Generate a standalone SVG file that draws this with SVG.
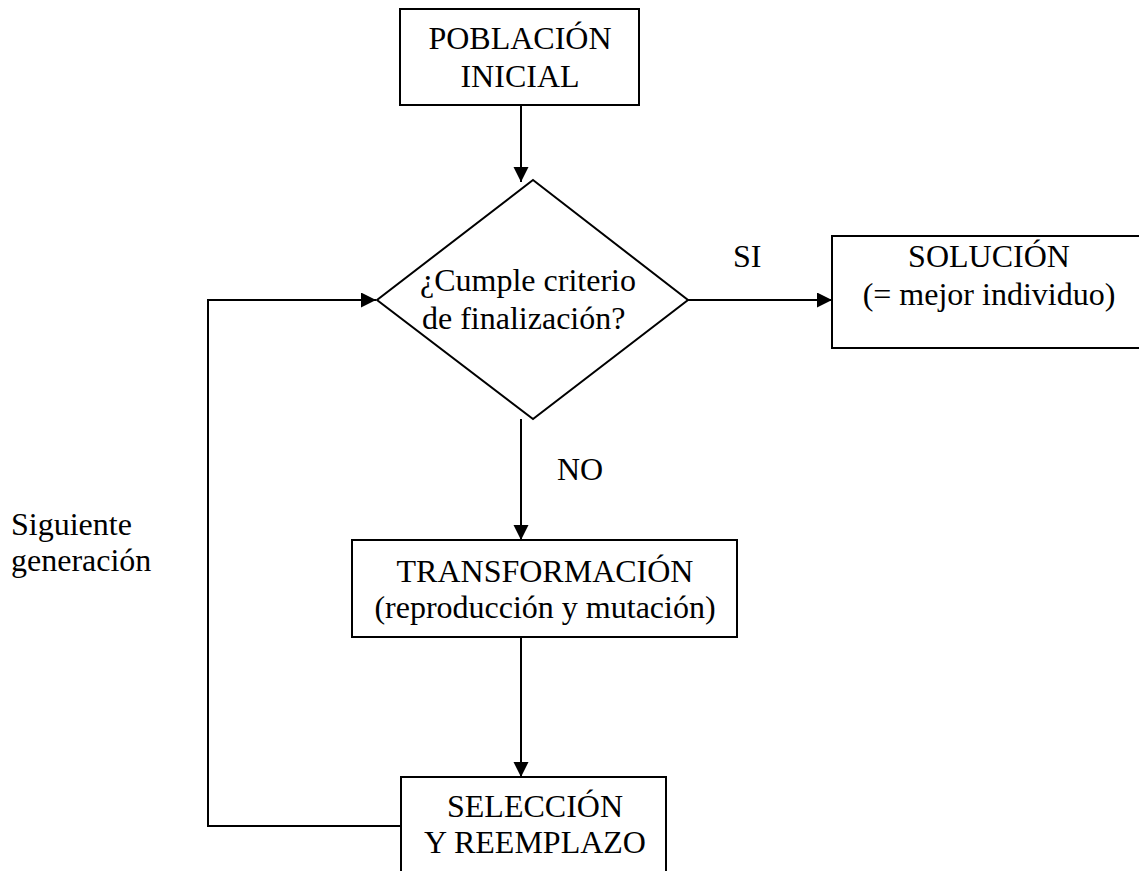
<svg xmlns="http://www.w3.org/2000/svg" width="1139" height="871" viewBox="0 0 1139 871">
  <style>
    .box { fill: #ffffff; stroke: #000000; stroke-width: 2; }
    .lbl { font-size: 32px; fill: #000000; }
    .mid { text-anchor: middle; }
    .edge { fill: none; stroke: #000000; stroke-width: 2; }
  </style>
  <defs>
    <marker id="arrow" markerUnits="userSpaceOnUse" markerWidth="16" markerHeight="16" refX="15" refY="7.5" orient="auto">
      <path d="M0,0 L15,7.5 L0,15 Z" fill="#000000"/>
    </marker>
  </defs>
  <rect width="1139" height="871" fill="#ffffff"/>

  <g font-family="Liberation Serif, Tinos, Times New Roman, DejaVu Serif, serif">
    <!-- connectors and their labels -->
    <g id="connectors">
      <path class="edge" d="M521,105 V182" marker-end="url(#arrow)"/>
      <path class="edge" d="M688,300 H832" marker-end="url(#arrow)"/>
      <path class="edge" d="M521,419 V540" marker-end="url(#arrow)"/>
      <path class="edge" d="M521,637 V777" marker-end="url(#arrow)"/>
      <path class="edge" d="M401,826 H208 V300 H376" marker-end="url(#arrow)"/>
      <text class="lbl" x="733" y="267">SI</text>
      <text class="lbl" x="557" y="480">NO</text>
      <text class="lbl" x="11" y="535">Siguiente</text>
      <text class="lbl" x="11" y="571">generación</text>
    </g>

    <g id="poblacion-inicial">
      <rect class="box" x="400" y="9" width="239" height="96"/>
      <text class="lbl mid" x="520" y="49">POBLACIÓN</text>
      <text class="lbl mid" x="520" y="87">INICIAL</text>
    </g>

    <g id="criterio">
      <polygon class="box" points="533,180 688,300 533,419 377,300"/>
      <text class="lbl" x="420" y="291">¿Cumple criterio</text>
      <text class="lbl" x="422" y="329">de finalización?</text>
    </g>

    <g id="solucion">
      <rect class="box" x="832" y="236" width="320" height="112"/>
      <text class="lbl mid" x="989" y="267">SOLUCIÓN</text>
      <text class="lbl mid" x="989" y="305">(= mejor individuo)</text>
    </g>

    <g id="transformacion">
      <rect class="box" x="352" y="540" width="385" height="97"/>
      <text class="lbl mid" x="545" y="582">TRANSFORMACIÓN</text>
      <text class="lbl mid" x="545" y="618">(reproducción y mutación)</text>
    </g>

    <g id="seleccion">
      <rect class="box" x="401" y="777" width="265" height="110"/>
      <text class="lbl mid" x="535" y="817">SELECCIÓN</text>
      <text class="lbl mid" x="535" y="853">Y REEMPLAZO</text>
    </g>
  </g>
</svg>
